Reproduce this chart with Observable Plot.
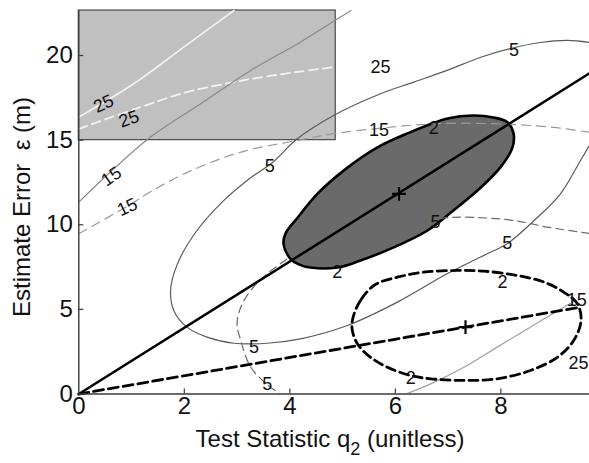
<!DOCTYPE html>
<html><head><meta charset="utf-8">
<script src="https://cdn.jsdelivr.net/npm/d3@7"></script>
<script src="https://cdn.jsdelivr.net/npm/@observablehq/plot@0.6"></script>
<style>body{margin:0;background:#fff;}</style>
</head><body><div id="chart"></div>
<script>
// ---- data ----
const xTicks = [0, 2, 4, 6, 8];
const yTicks = [0, 5, 10, 15, 20];
const xDomain = [0, 9.68];
const yDomain = [0, 22.66];
const xTitle = "Test Statistic q";
const xTitleSub = "2";
const xTitleTail = " (unitless)";
const yTitle = "Estimate Error  ε (m)";

// shaded inset region (q from 0 to 4.87, error from 15 up)
const insetBox = [{x1: 0, x2: 4.87, y1: 15, y2: 22.66}];

// centres of the two families
const centers = [[6.07, 11.83], [7.33, 3.95]];

// rays from origin
const solidRay = [[0, 0], [9.68, 18.95]];
const dashedRay = [[0, 0], [9.45, 5.1]];

// solid family contours
const solid2 = [[3.88,8.89],[4.01,8.0],[4.17,7.66],[4.39,7.47],[4.90,7.47],[5.34,7.89],[5.97,8.66],[6.61,9.66],[7.10,10.84],[7.62,12.20],[7.99,13.39],[8.22,14.57],[8.24,15.40],[8.13,16.05],[7.86,16.34],[7.48,16.46],[6.99,16.28],[6.23,15.40],[5.66,14.57],[5.02,13.20],[4.53,11.85],[4.15,10.43],[3.92,9.49]];
const solid5 = [[9.68,20.77],[9.26,20.89],[8.75,20.77],[8.18,20.41],[7.62,19.90],[6.98,19.12],[6.35,18.43],[5.72,17.74],[4.83,16.46],[4.14,15.08],[3.67,13.68],[3.19,12.62],[2.75,11.44],[2.24,9.66],[1.87,7.69],[1.74,6.12],[1.80,4.94],[2.05,3.95],[2.43,3.36],[2.94,3.00],[3.57,3.00],[4.20,3.26],[5.09,4.05],[6.04,5.43],[6.98,7.10],[7.74,8.29],[8.12,8.88],[8.63,10.25],[9.13,11.83],[9.51,13.80],[9.68,14.69]];
const solid15a = [[0,11.34],[0.68,13.35],[1.36,15.18],[2.31,17.15],[3.26,19.12],[4.20,20.79],[4.96,22.27],[5.16,22.66]];
const solid15b = [[6.20,0],[6.67,0.60],[7.30,1.58],[7.93,2.77],[8.56,3.95],[9.19,5.13],[9.40,5.50]];
const solid25a = [[0,16.36],[1.04,18.33],[1.99,20.50],[2.94,22.66]];

// dashed family contours
const dashed2 = [[5.62,6.47],[5.34,5.53],[5.20,4.54],[5.18,3.85],[5.28,2.97],[5.53,2.17],[5.85,1.58],[6.29,1.09],[6.67,0.90],[7.30,0.80],[7.93,0.90],[8.56,1.39],[9.07,2.17],[9.38,3.16],[9.52,4.34],[9.45,5.33],[9.19,6.02],[8.82,6.61],[8.31,7.00],[7.68,7.26],[7.17,7.30],[6.54,7.20],[6.04,6.90]];
const dashed5 = [[9.68,9.49],[8.88,9.86],[8.25,10.25],[7.30,10.45],[6.73,10.35],[6.10,10.14],[5.53,9.84],[4.90,9.47],[4.20,8.60],[3.95,7.99],[3.57,7.10],[3.26,6.12],[3.07,5.13],[3.00,4.15],[3.07,3.16],[3.26,1.58],[3.57,0.56],[3.82,0]];
const dashed15 = [[0,9.47],[0.92,11.10],[1.36,11.95],[1.99,13.00],[2.69,13.90],[3.26,14.45],[4.14,14.98],[4.83,15.38],[5.69,15.70],[6.48,15.92],[7.30,16.00],[8.25,15.92],[9.00,15.75],[9.68,15.47]];
const dashed25 = [[0,15.67],[1.17,16.95],[2.05,17.84],[2.94,18.43],[3.89,18.92],[4.83,19.31]];

// contour labels
const labelText = ["2","2","5","5","5","5","2","2","5","5","15","15","15","15","25","25","25","25"];
const labelX    = [6.73,4.90,8.25,3.62,8.12,3.32,8.03,6.29,6.76,3.57,0.62,9.44,0.92,5.69,0.47,9.47,0.95,5.72];
const labelY    = [15.69,7.20,20.30,13.45,8.90,2.76,6.61,0.92,10.15,0.56,12.85,5.55,11.04,15.60,17.15,1.80,16.25,19.30];
const labelRot  = [0,0,0,0,0,0,0,0,0,0,-35,0,-25,0,-25,0,-20,0];
const labels = labelText.map((t, i) => ({t, x: labelX[i], y: labelY[i], r: labelRot[i]}));

// ---- chart ----
const F = "Liberation Sans, Arial, Helvetica, sans-serif";
const px = d => d[0], py = d => d[1];
const thin = {x: px, y: py, strokeWidth: 1.2, curve: "catmull-rom", clip: true};

const chart = Plot.plot({
  width: 589, height: 463,
  marginLeft: 78.3, marginRight: 0, marginTop: 10, marginBottom: 69.5,
  x: {domain: xDomain, axis: null},
  y: {domain: yDomain, axis: null},
  style: {fontFamily: F, background: "#fff", color: "#111"},
  marks: [
    Plot.rect(insetBox, {x1: "x1", x2: "x2", y1: "y1", y2: "y2", fill: "#c0c0c0", stroke: "#4a4a4a", strokeWidth: 1.2}),
    Plot.line(solid2, {x: px, y: py, curve: "catmull-rom-closed", fill: "#6a6a6a", stroke: "#000", strokeWidth: 2.6}),
    Plot.line(solid25a, {...thin, stroke: "#f2f2f2", strokeWidth: 1.6}),
    Plot.line(dashed25, {...thin, stroke: "#f2f2f2", strokeWidth: 1.8, strokeDasharray: "9,5"}),
    Plot.line(solid15a, {...thin, stroke: "#8a8a8a"}),
    Plot.line(solid15b, {...thin, stroke: "#a0a0a0"}),
    Plot.line(dashed15, {...thin, stroke: "#9a9a9a", strokeDasharray: "9,6"}),
    Plot.line(solid5, {...thin, stroke: "#5a5a5a"}),
    Plot.line(dashed5, {...thin, stroke: "#6a6a6a", strokeDasharray: "8,5"}),
    Plot.line(dashed2, {x: px, y: py, curve: "catmull-rom-closed", stroke: "#000", strokeWidth: 2.8, strokeDasharray: "9,5"}),
    Plot.line(solidRay, {x: px, y: py, stroke: "#000", strokeWidth: 2.5}),
    Plot.line(dashedRay, {x: px, y: py, stroke: "#000", strokeWidth: 2.8, strokeDasharray: "10,5"}),
    Plot.dot(centers, {x: px, y: py, symbol: "plus", r: 4.5, stroke: "#000", strokeWidth: 2.2}),
    Plot.text(labels, {x: "x", y: "y", text: "t", rotate: "r", fontSize: 18, fill: "#111"}),
    // axes
    Plot.ruleY([0], {stroke: "#3a3a3a", strokeWidth: 1.4}),
    Plot.ruleX([0], {stroke: "#3a3a3a", strokeWidth: 1.4}),
    Plot.ruleX(xTicks.slice(1), {x: d => d, y1: 0, y2: 0.3, stroke: "#3a3a3a", strokeWidth: 1.2}),
    Plot.ruleY(yTicks.slice(1), {y: d => d, x1: 0, x2: 0.095, stroke: "#3a3a3a", strokeWidth: 1.2}),
    Plot.text(xTicks, {x: d => d, frameAnchor: "bottom", dy: 20, text: d => String(d), fontSize: 24, fill: "#111"}),
    Plot.text(yTicks, {y: d => d, frameAnchor: "left", dx: -6, textAnchor: "end", text: d => String(d), fontSize: 24, fill: "#111"})
  ]
});
document.getElementById("chart").appendChild(chart);

const svg = d3.select(chart);
const xt = svg.append("text")
  .attr("x", 330).attr("y", 447)
  .attr("text-anchor", "middle")
  .attr("font-family", F).attr("font-size", 24).attr("fill", "#111");
xt.append("tspan").text(xTitle);
xt.append("tspan").attr("dy", 8).attr("font-size", 18).text(xTitleSub);
xt.append("tspan").attr("dy", -8).text(xTitleTail);

svg.append("text")
  .attr("transform", "translate(30,207) rotate(-90)")
  .attr("text-anchor", "middle")
  .attr("font-family", F).attr("font-size", 24).attr("fill", "#111")
  .text(yTitle);
</script>
</body></html>
